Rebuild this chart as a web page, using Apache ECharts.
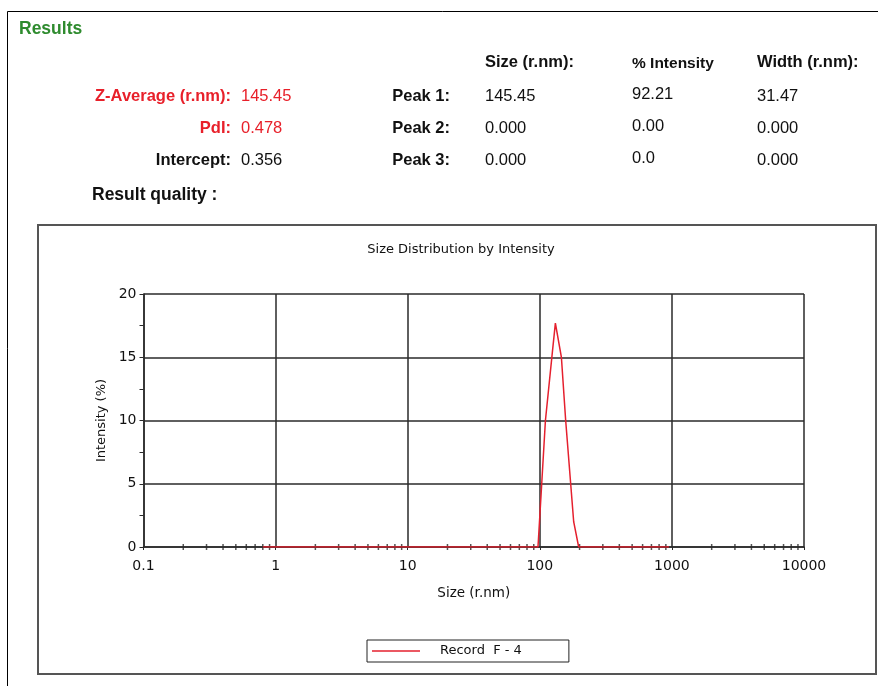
<!DOCTYPE html>
<html>
<head>
<meta charset="utf-8">
<script src="https://cdn.jsdelivr.net/npm/echarts@6/dist/echarts.min.js"></script>
<style>
html,body{margin:0;padding:0;background:#fff;}
#chart{width:878px;height:686px;}
</style>
</head>
<body>
<div id="chart"></div>
<script>
// ---- data ----
const seriesName = 'Record  F - 4';
const sizes = [0.8, 1, 2, 5, 10, 20, 50, 96.9, 103.4, 110.3, 124.5, 131.2, 145.7, 157, 171.3, 180.5, 196.9, 300, 500, 950];
const intensities = [0, 0, 0, 0, 0, 0, 0, 0, 5, 10, 15.4, 17.7, 15.0, 10, 5, 2, 0, 0, 0, 0];
const xTickLabels = ['0.1', '1', '10', '100', '1000', '10000'];
const yTickLabels = ['0', '5', '10', '15', '20'];
const headerCols = ['Size (r.nm):', '% Intensity', 'Width (r.nm):'];
const peakLabels = ['Peak 1:', 'Peak 2:', 'Peak 3:'];
const peakSize = ['145.45', '0.000', '0.000'];
const peakIntensity = ['92.21', '0.00', '0.0'];
const peakWidth = ['31.47', '0.000', '0.000'];
const summaryLabels = ['Z-Average (r.nm):', 'PdI:', 'Intercept:'];
const summaryValues = ['145.45', '0.478', '0.356'];

// minor tick positions on the log x axis (2..9 in each decade)
const minorTicks = [];
for (let d = -1; d < 4; d++) {
  for (let k = 2; k <= 9; k++) minorTicks.push([k * Math.pow(10, d), 0]);
}

const FONT = '"Liberation Sans", Arial, sans-serif';
const CFONT = '"DejaVu Sans", Verdana, sans-serif';
const rowY = [96, 128, 160];
const graphics = [];
function txt(x, y, text, opts) {
  graphics.push({
    type: 'text', x: x, y: y, silent: true,
    style: Object.assign({
      text: text, fill: '#111', font: '16.5px ' + FONT,
      textAlign: 'left', textVerticalAlign: 'middle'
    }, opts || {})
  });
}
// outer frame lines
graphics.push({type:'line', shape:{x1:7.5,y1:11.5,x2:878,y2:11.5}, style:{stroke:'#000', lineWidth:1}});
graphics.push({type:'line', shape:{x1:7.5,y1:11.5,x2:7.5,y2:686}, style:{stroke:'#000', lineWidth:1}});
// chart box
graphics.push({type:'rect', shape:{x:38,y:225,width:838,height:449}, style:{fill:null, stroke:'#555', lineWidth:2}, z:-1});

const B = 'bold 16.5px ' + FONT;
const N = '16.5px ' + FONT;
txt(19, 29, 'Results', {fill:'#2e8b2e', font:'bold 17.5px ' + FONT});
const colX = [485, 632, 757];
txt(colX[0], 62, headerCols[0], {font:B});
txt(colX[1], 64, headerCols[1], {font:'bold 15.5px ' + FONT});
txt(colX[2], 62, headerCols[2], {font:B});
for (let i = 0; i < 3; i++) {
  const red = i < 2;
  txt(231, rowY[i], summaryLabels[i], {textAlign:'right', fill: red ? '#e8202a' : '#111', font:B});
  txt(241, rowY[i], summaryValues[i], {fill: red ? '#e8202a' : '#111', font:N});
  txt(450, rowY[i], peakLabels[i], {textAlign:'right', font:B});
  txt(colX[0], rowY[i], peakSize[i], {font:N});
  txt(colX[1], rowY[i] - 2, peakIntensity[i], {font:N});
  txt(colX[2], rowY[i], peakWidth[i], {font:N});
}
txt(92, 195, 'Result quality :', {font:'bold 17.5px ' + FONT});

const chart = echarts.init(document.getElementById('chart'), null, {renderer:'canvas'});
const gridColor = '#2a2a2a';
chart.setOption({
  animation: false,
  backgroundColor: '#fff',
  title: {
    text: 'Size Distribution by Intensity',
    left: 456, top: 238, textAlign: 'center',
    textStyle: {fontFamily: CFONT, fontSize: 13, fontWeight: 'normal', color: '#111'}
  },
  legend: {
    data: [seriesName],
    left: 367, top: 640,
    icon: 'rect',
    padding: [3, 47, 3, 5],
    itemWidth: 48, itemHeight: 1.5,
    borderColor: '#222', borderWidth: 1,
    textStyle: {fontFamily: CFONT, fontSize: 13, color: '#111', padding: [0, 0, 0, 15], lineHeight: 16}
  },
  grid: {left: 143.5, top: 294, right: 74, bottom: 139, containLabel: false},
  xAxis: {
    type: 'log', logBase: 10, min: 0.1, max: 10000,
    name: 'Size (r.nm)', nameLocation: 'middle', nameGap: 39,
    nameTextStyle: {fontFamily: CFONT, fontSize: 13.5, color: '#111'},
    axisLine: {show: true, lineStyle: {color: gridColor, width: 1.5}},
    axisTick: {show: true, length: 3, lineStyle: {color: gridColor}},
    axisLabel: {
      fontFamily: CFONT, fontSize: 14, color: '#111', margin: 12,
      formatter: function (v) {
        const i = Math.round(Math.log10(v)) + 1;
        return xTickLabels[i] !== undefined ? xTickLabels[i] : '';
      }
    },
    splitLine: {show: true, lineStyle: {color: gridColor, width: 1.5}}
  },
  yAxis: {
    type: 'value', min: 0, max: 20, interval: 5,
    name: 'Intensity (%)', nameLocation: 'middle', nameGap: 29, nameRotate: 90,
    nameTextStyle: {fontFamily: CFONT, fontSize: 13, color: '#111'},
    axisLine: {show: true, lineStyle: {color: gridColor, width: 1.5}},
    axisTick: {show: true, length: 4, lineStyle: {color: gridColor}},
    minorTick: {show: true, splitNumber: 2, length: 4, lineStyle: {color: gridColor}},
    axisLabel: {
      fontFamily: CFONT, fontSize: 14, color: '#111', margin: 7,
      formatter: function (v) { return yTickLabels[Math.round(v / 5)]; }
    },
    splitLine: {show: true, lineStyle: {color: gridColor, width: 1.5}}
  },
  series: [
    {
      name: 'minor',
      type: 'scatter',
      data: minorTicks,
      symbol: 'rect',
      symbolSize: [1.5, 6],
      itemStyle: {color: gridColor},
      silent: true,
      z: 1
    },
    {
      name: seriesName,
      type: 'line',
      data: sizes.map((s, i) => [s, intensities[i]]),
      symbol: 'none',
      lineStyle: {color: '#e5202e', width: 1.5},
      itemStyle: {color: '#e5202e'},
      z: 3
    }
  ],
  graphic: graphics
});
</script>
</body>
</html>
